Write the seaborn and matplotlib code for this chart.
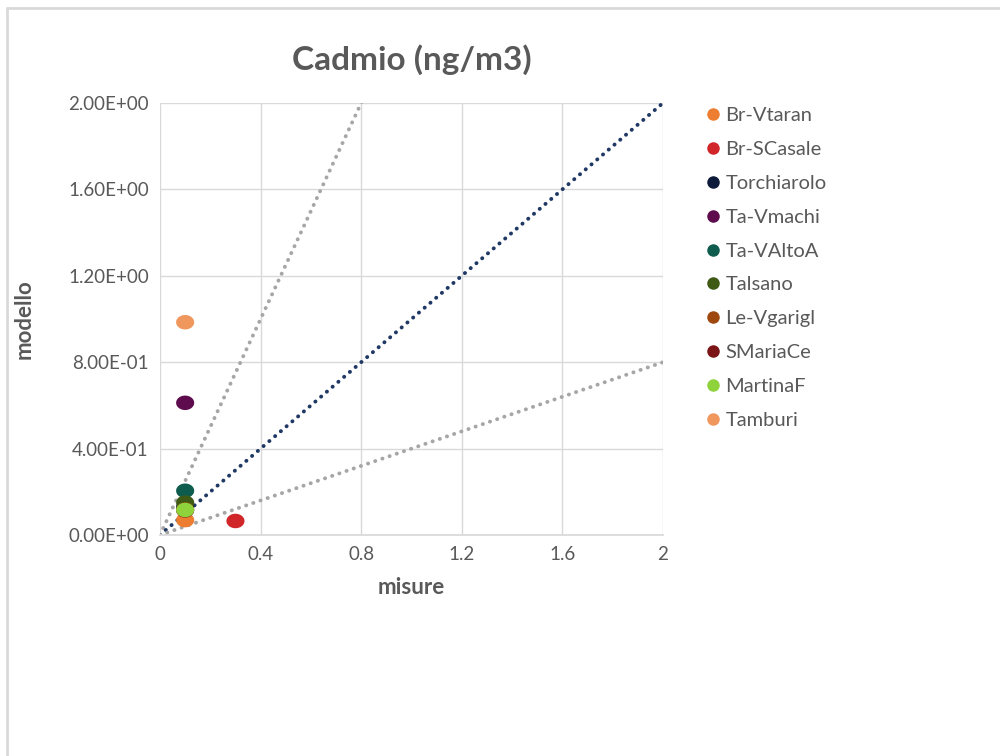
import numpy as np
import pandas as pd
import seaborn as sns
import matplotlib.pyplot as plt
from matplotlib.lines import Line2D
from matplotlib.path import Path
from matplotlib.ticker import FuncFormatter

stazioni = ['Br-Vtaran', 'Br-SCasale', 'Torchiarolo', 'Ta-Vmachi', 'Ta-VAltoA',
            'Talsano', 'Le-Vgarigl', 'SMariaCe', 'MartinaF', 'Tamburi']
misure = [0.1, 0.3, 0.1, 0.1, 0.1, 0.1, 0.1, 0.1, 0.1, 0.1]
modello = [0.069, 0.065, 0.13, 0.612, 0.205, 0.15, 0.118, 0.114, 0.116, 0.985]
colori = ['#ED7D31', '#D0262A', '#0D1A3A', '#5E0C4E', '#0E5C4D',
          '#3E5A14', '#9E480E', '#7B1416', '#8FD33C', '#F0975E']

# reference lines: y = 2.5x, y = x, y = 0.4x
rif_x = [0, 2]
rif_fattori = [2.5, 1.0, 0.4]
rif_colori = ['#A6A6A6', '#1F3864', '#A6A6A6']

df = pd.DataFrame({'stazione': stazioni, 'misure': misure, 'modello': modello})

sns.set_theme(style='white')
plt.rcParams['font.family'] = ['Lato', 'DejaVu Sans']
testo = '#595959'

# slightly wide elliptic marker, like the stretched picture
t = np.linspace(0, 2 * np.pi, 60)
ellisse = Path(np.column_stack([1.25 * np.cos(t), np.sin(t)]), closed=True)

fig = plt.figure(figsize=(10, 7.56), dpi=100)
ax = fig.add_axes([0.16, 0.2923, 0.503, 0.5715])

for f, c in zip(rif_fattori, rif_colori):
    xs = np.array(rif_x, dtype=float)
    ax.plot(xs, xs * f, linestyle=(0, (0.05, 1.9)), color=c, linewidth=2.8,
            dash_capstyle='round', zorder=2)

sns.scatterplot(data=df, x='misure', y='modello', hue='stazione',
                palette=dict(zip(stazioni, colori)), hue_order=stazioni,
                s=170, marker=ellisse, edgecolor='none', ax=ax, zorder=3, legend=False)

ax.set_xlim(0, 2)
ax.set_ylim(0, 2)
ax.set_xticks([0, 0.4, 0.8, 1.2, 1.6, 2])
ax.set_xticklabels(['0', '0.4', '0.8', '1.2', '1.6', '2'])
ax.set_yticks([0, 0.4, 0.8, 1.2, 1.6, 2.0])
ax.yaxis.set_major_formatter(FuncFormatter(lambda v, p: f'{v:.2E}'))
ax.tick_params(axis='both', labelsize=13.5, colors=testo, length=0, pad=8)
ax.grid(True, color='#D9D9D9', linewidth=1)
for s in ax.spines.values():
    s.set_visible(False)
ax.spines['bottom'].set_visible(True)
ax.spines['bottom'].set_color('#D9D9D9')

ax.set_xlabel('misure', fontsize=16, fontweight='bold', color=testo, labelpad=10)
ax.set_ylabel('modello', fontsize=16, fontweight='bold', color=testo, labelpad=24)
ax.set_title('Cadmio (ng/m3)', fontsize=24, fontweight='bold', color=testo, pad=24)

handles = [Line2D([0], [0], marker='o', linestyle='none', markersize=9,
                  markerfacecolor=c, markeredgecolor='none') for c in colori]
leg = fig.legend(handles, stazioni, loc='upper left', bbox_to_anchor=(0.683, 0.882),
                 frameon=False, fontsize=14.5, handletextpad=0.0, labelspacing=0.83,
                 handlelength=1.2)
for txt in leg.get_texts():
    txt.set_color(testo)

# outer frame (left and top edge visible)
fig.add_artist(Line2D([0.007, 0.007], [0, 0.99], color='#D9D9D9', linewidth=2))
fig.add_artist(Line2D([0.007, 1.0], [0.99, 0.99], color='#D9D9D9', linewidth=2))

fig.savefig('out.png', dpi=100)
